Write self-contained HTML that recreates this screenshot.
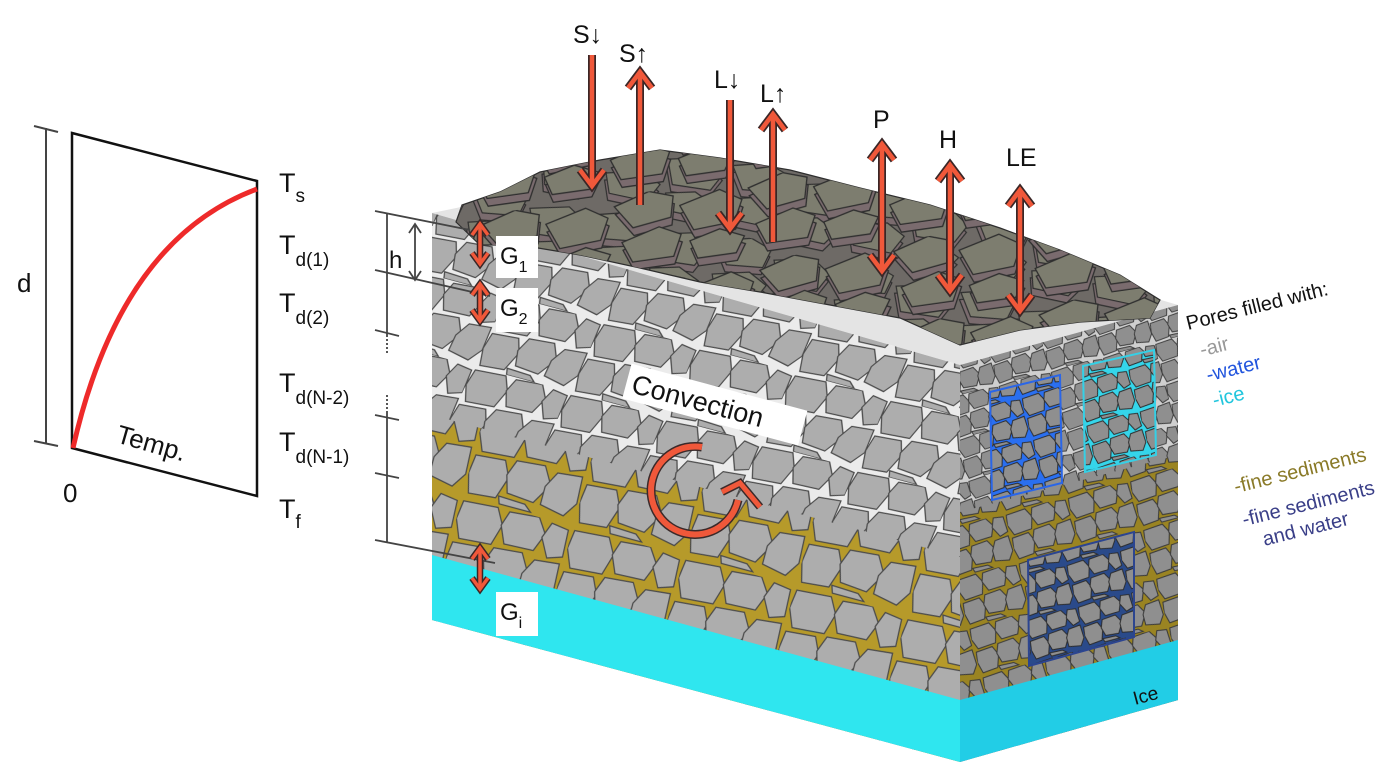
<!DOCTYPE html>
<html><head><meta charset="utf-8"><style>
html,body{margin:0;padding:0;background:#fff;}
svg{display:block;font-family:"Liberation Sans","DejaVu Sans",sans-serif;}
</style></head><body>
<svg width="1390" height="780" viewBox="0 0 1390 780" xmlns="http://www.w3.org/2000/svg">
<defs>
<g id="rk">
<polygon points="2,3 30,1 37,14 32,31 6,33 0,18"/>
<polygon points="40,2 64,0 72,12 66,27 42,28 36,14"/>
<polygon points="75,2 89,4 90,26 78,30 70,15"/>
<polygon points="2,37 26,35 32,48 26,66 4,68 0,52"/>
<polygon points="35,33 58,31 66,45 56,62 34,60 30,46"/>
<polygon points="69,34 89,32 90,54 82,66 62,62 62,47"/>
<polygon points="28,64 50,65 56,70 30,70"/>
</g>
<pattern id="pf" width="90" height="70" patternUnits="userSpaceOnUse" patternTransform="rotate(15) scale(1.1) skewX(-10)">
<rect width="90" height="70" fill="#ebebeb"/>
<use href="#rk" fill="#adadad" stroke="#4a4a4a" stroke-width="1.1"/>
</pattern>
<pattern id="py" width="92" height="72" patternUnits="userSpaceOnUse" patternTransform="rotate(15) scale(1.25)">
<rect width="92" height="72" fill="#b69a2a"/>
<use href="#rk" fill="#adadad" stroke="#4a4a4a" stroke-width="1"/>
</pattern>
<pattern id="pr" width="90" height="70" patternUnits="userSpaceOnUse" patternTransform="rotate(-15) scale(0.6)">
<rect width="90" height="70" fill="#cfcfcf"/>
<use href="#rk" fill="#8f8f8f" stroke="#3a3a3a" stroke-width="1.6"/>
</pattern>
<pattern id="pry" width="92" height="72" patternUnits="userSpaceOnUse" patternTransform="rotate(-15) scale(0.7)">
<rect width="92" height="72" fill="#9a8422"/>
<use href="#rk" fill="#8f8f8f" stroke="#3a3a3a" stroke-width="1.5"/>
</pattern>
<pattern id="pi" width="92" height="72" patternUnits="userSpaceOnUse" patternTransform="rotate(-15) scale(0.6)">
<use href="#rk" fill="#8f8f8f" stroke="#2a2a2a" stroke-width="1.6"/>
</pattern>
<g id="slabs">
<polygon points="2,14 30,6 48,12 44,28 14,32" fill="#7a6b6e"/>
<polygon points="2,8 30,0 48,6 44,22 14,26" fill="#7d7d6f"/>
<polygon points="52,20 84,12 100,22 92,38 60,40" fill="#7a6b6e"/>
<polygon points="52,14 84,6 100,16 92,32 60,34" fill="#7d7d6f"/>
<polygon points="4,42 34,34 50,42 42,58 10,58" fill="#7a6b6e"/>
<polygon points="4,36 34,28 50,36 42,52 10,52" fill="#7d7d6f"/>
<polygon points="56,48 80,42 98,50 90,62 60,62" fill="#7a6b6e"/>
<polygon points="56,42 80,36 98,44 90,56 60,56" fill="#7d7d6f"/>
</g>
<pattern id="pt" width="104" height="64" patternUnits="userSpaceOnUse" patternTransform="rotate(12) scale(1.2)">
<rect width="104" height="64" fill="#6e6a66"/>
<use href="#slabs" stroke="#2e2e2e" stroke-width="1"/>
</pattern>
<pattern id="pt2" width="104" height="64" patternUnits="userSpaceOnUse" patternTransform="translate(40,25) rotate(-8) scale(1.3)">
<use href="#slabs" stroke="#2e2e2e" stroke-width="1"/>
</pattern>
</defs>
<!-- top face -->
<polygon points="432,213 960,365 1178,305 690,160" fill="#e4e4e4"/>
<!-- front face -->
<polygon points="432,213 960,365 960,762 432,620" fill="url(#pf)"/>
<polygon points="432,415 960,557 960,762 432,620" fill="url(#py)"/>
<!-- right face -->
<polygon points="960,365 1178,305 1178,700 960,762" fill="url(#pr)"/>
<polygon points="960,512 1178,455 1178,700 960,762" fill="url(#pry)"/>
<!-- ice -->
<polygon points="432,555 960,700 960,762 432,620" fill="#2fe6ef"/>
<polygon points="960,700 1178,640 1178,700 960,762" fill="#22cde6"/>
<!-- insets -->
<polygon points="990,392 1060,375 1062,483 992,500" fill="#2a6ff0"/>
<polygon points="990,392 1060,375 1062,483 992,500" fill="url(#pi)"/>
<polygon points="990,392 1060,375 1062,483 992,500" fill="none" stroke="#2a66e8" stroke-width="2"/>
<polygon points="1083,366 1154,350 1156,455 1085,472" fill="#35d5ea"/>
<polygon points="1083,366 1154,350 1156,455 1085,472" fill="url(#pi)"/>
<polygon points="1083,366 1154,350 1156,455 1085,472" fill="none" stroke="#35d0e6" stroke-width="2"/>
<polygon points="1028,560 1134,532 1134,637 1029,666" fill="#2a4a8a"/>
<polygon points="1028,560 1134,532 1134,637 1029,666" fill="url(#pi)"/>
<polygon points="1028,560 1134,532 1134,637 1029,666" fill="none" stroke="#2c4590" stroke-width="2"/>
<text x="1135" y="705" font-size="19" fill="#111" transform="rotate(-15 1135 705)">Ice</text>
<!-- top rock pile -->
<path d="M456,222 L462,205 L500,192 L540,172 L600,160 L660,150 L720,158 L790,170 L860,188 L930,205 L1000,228 L1060,250 L1120,275 L1160,300 L1150,318 L1080,322 L1020,330 L960,345 L900,318 L830,305 L760,292 L700,282 L640,268 L580,255 L520,245 L480,245 Z" fill="url(#pt)" stroke="#2e2e2e" stroke-width="1.2"/>
<path d="M456,222 L462,205 L500,192 L540,172 L600,160 L660,150 L720,158 L790,170 L860,188 L930,205 L1000,228 L1060,250 L1120,275 L1160,300 L1150,318 L1080,322 L1020,330 L960,345 L900,318 L830,305 L760,292 L700,282 L640,268 L580,255 L520,245 L480,245 Z" fill="url(#pt2)"/>

<!-- left chart -->
<polygon points="72,133 257,181 257,496 72,448" fill="#fff" stroke="#111" stroke-width="2.5"/>
<path d="M73,448 Q120,240 257,189" fill="none" stroke="#ee2a2a" stroke-width="5"/>
<line x1="46" y1="128" x2="46" y2="444" stroke="#444" stroke-width="2"/>
<line x1="34" y1="126" x2="58" y2="132" stroke="#444" stroke-width="2"/>
<line x1="34" y1="441" x2="58" y2="446" stroke="#444" stroke-width="2"/>
<text x="17" y="292" font-size="26" fill="#111">d</text>
<text x="63" y="502" font-size="26" fill="#111">0</text>
<text x="115" y="442" font-size="26" fill="#111" transform="rotate(16 115 442)">Temp.</text>
<g font-size="27" fill="#111">
<text x="279" y="192">T<tspan font-size="19" dy="10">s</tspan></text>
<text x="279" y="254">T<tspan font-size="19" dy="12">d(1)</tspan></text>
<text x="279" y="312">T<tspan font-size="19" dy="12">d(2)</tspan></text>
<text x="279" y="392">T<tspan font-size="19" dy="12">d(N-2)</tspan></text>
<text x="279" y="451">T<tspan font-size="19" dy="12">d(N-1)</tspan></text>
<text x="279" y="518">T<tspan font-size="19" dy="10">f</tspan></text>
</g>
<!-- right bracket -->
<g stroke="#444" stroke-width="1.8" fill="none">
<line x1="387" y1="213" x2="387" y2="335"/>
<line x1="387" y1="335" x2="387" y2="355" stroke-dasharray="2,2"/>
<line x1="387" y1="395" x2="387" y2="412" stroke-dasharray="2,2"/>
<line x1="387" y1="412" x2="387" y2="543"/>
<line x1="375" y1="211" x2="470" y2="230"/>
<line x1="375" y1="270" x2="490" y2="296"/>
<line x1="375" y1="330" x2="399" y2="336"/>
<line x1="375" y1="415" x2="399" y2="420"/>
<line x1="375" y1="473" x2="399" y2="478"/>
<line x1="375" y1="540" x2="495" y2="563"/>
<line x1="415" y1="224" x2="415" y2="280"/>
<polyline points="409,233 415,224 421,233"/>
<polyline points="409,271 415,280 421,271"/>
</g>
<text x="389" y="268" font-size="24" fill="#111">h</text>

<!-- arrows: outline then fill -->
<g fill="none" stroke="#3a2626" stroke-width="8" stroke-linejoin="miter">
<line x1="592" y1="55" x2="592" y2="185"/><polyline points="580,170 592,186 604,170"/>
<line x1="640" y1="72" x2="640" y2="205"/><polyline points="628,88 640,72 652,88"/>
<line x1="730" y1="100" x2="730" y2="228"/><polyline points="718,213 730,229 742,213"/>
<line x1="773" y1="114" x2="773" y2="242"/><polyline points="761,130 773,114 785,130"/>
<line x1="882" y1="144" x2="882" y2="271"/><polyline points="870,160 882,144 894,160"/><polyline points="870,255 882,271 894,255"/>
<line x1="950" y1="165" x2="950" y2="291"/><polyline points="938,181 950,165 962,181"/><polyline points="938,275 950,291 962,275"/>
<line x1="1020" y1="190" x2="1020" y2="311"/><polyline points="1008,206 1020,190 1032,206"/><polyline points="1008,295 1020,311 1032,295"/>
<g stroke-width="6.5">
<line x1="480" y1="224" x2="480" y2="264"/><polyline points="472,235 480,224 488,235"/><polyline points="472,253 480,264 488,253"/>
<line x1="480" y1="284" x2="480" y2="321"/><polyline points="472,295 480,284 488,295"/><polyline points="472,310 480,321 488,310"/>
<line x1="480" y1="548" x2="480" y2="589"/><polyline points="472,559 480,548 488,559"/><polyline points="472,578 480,589 488,578"/>
</g>
</g>
<g fill="none" stroke="#f0583a" stroke-width="4.5" stroke-linejoin="miter">
<line x1="592" y1="55" x2="592" y2="185"/><polyline points="580,170 592,186 604,170"/>
<line x1="640" y1="72" x2="640" y2="205"/><polyline points="628,88 640,72 652,88"/>
<line x1="730" y1="100" x2="730" y2="228"/><polyline points="718,213 730,229 742,213"/>
<line x1="773" y1="114" x2="773" y2="242"/><polyline points="761,130 773,114 785,130"/>
<line x1="882" y1="144" x2="882" y2="271"/><polyline points="870,160 882,144 894,160"/><polyline points="870,255 882,271 894,255"/>
<line x1="950" y1="165" x2="950" y2="291"/><polyline points="938,181 950,165 962,181"/><polyline points="938,275 950,291 962,275"/>
<line x1="1020" y1="190" x2="1020" y2="311"/><polyline points="1008,206 1020,190 1032,206"/><polyline points="1008,295 1020,311 1032,295"/>
<g stroke-width="3.5">
<line x1="480" y1="224" x2="480" y2="264"/><polyline points="472,235 480,224 488,235"/><polyline points="472,253 480,264 488,253"/>
<line x1="480" y1="284" x2="480" y2="321"/><polyline points="472,295 480,284 488,295"/><polyline points="472,310 480,321 488,310"/>
<line x1="480" y1="548" x2="480" y2="589"/><polyline points="472,559 480,548 488,559"/><polyline points="472,578 480,589 488,578"/>
</g>
</g>
<!-- flux labels -->
<g font-size="25" fill="#111">
<text x="573" y="43">S↓</text>
<text x="619" y="62">S↑</text>
<text x="714" y="88">L↓</text>
<text x="760" y="102">L↑</text>
<text x="873" y="128">P</text>
<text x="939" y="148">H</text>
<text x="1006" y="166">LE</text>
</g>
<!-- G labels -->
<g font-size="24" fill="#111">
<rect x="496" y="236" width="42" height="42" fill="#fff"/>
<text x="500" y="264">G<tspan font-size="16" dy="8">1</tspan></text>
<rect x="496" y="288" width="42" height="44" fill="#fff"/>
<text x="500" y="316">G<tspan font-size="16" dy="8">2</tspan></text>
<rect x="496" y="592" width="42" height="44" fill="#fff"/>
<text x="500" y="620">G<tspan font-size="16" dy="8">i</tspan></text>
</g>
<g transform="rotate(15 630 385)">
<rect x="626" y="364" width="182" height="36" fill="#fff"/>
<text x="632" y="392" font-size="27" fill="#111">Convection</text>
</g>
<!-- convection circular arrow -->
<path d="M702,447 A44,44 0 1 0 738,500" fill="none" stroke="#3a2a2a" stroke-width="9"/>
<path d="M702,447 A44,44 0 1 0 738,500" fill="none" stroke="#f0583a" stroke-width="6"/>
<polyline points="722,492 740,483 760,507" fill="none" stroke="#3a2a2a" stroke-width="8"/>
<polyline points="722,492 740,483 760,507" fill="none" stroke="#f0583a" stroke-width="5"/>

<!-- legend -->
<g font-size="20" transform="rotate(-14 1188 330)">
<text x="1188" y="330" fill="#111">Pores filled with:</text>
<text x="1195" y="359" fill="#999">-air</text>
<text x="1195" y="385" fill="#2255dd">-water</text>
<text x="1195" y="411" fill="#22c6dd">-ice</text>
<text x="1195" y="500" fill="#8a7a28">-fine sediments</text>
<text x="1195" y="534" fill="#3a3f88">-fine sediments</text>
<text x="1210" y="558" fill="#3a3f88">and water</text>
</g>
</svg>
</body></html>
